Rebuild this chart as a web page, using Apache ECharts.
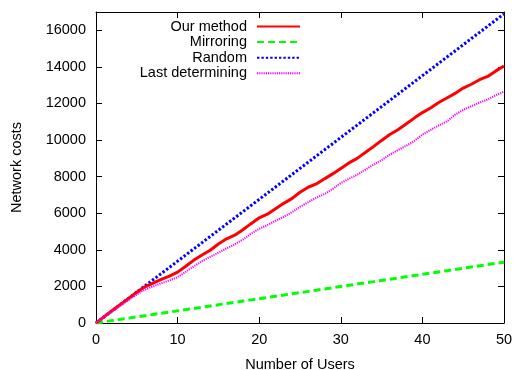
<!DOCTYPE html>
<html>
<head>
<meta charset="utf-8">
<script src="https://cdn.jsdelivr.net/npm/echarts@6/dist/echarts.min.js"></script>
<style>html,body{margin:0;padding:0;background:#fff}#c{width:515px;height:370px}</style>
</head>
<body>
<div id="c"></div>
<script>
const users = [0,1,2,3,4,5,6,7,8,9,10,11,12,13,14,15,16,17,18,19,20,21,22,23,24,25,26,27,28,29,30,31,32,33,34,35,36,37,38,39,40,41,42,43,44,45,46,47,48,49,50];
const ourMethod = [0,340,680,1010,1340,1680,1975,2180,2380,2560,2780,3100,3440,3720,3980,4320,4600,4800,5100,5430,5750,5950,6250,6540,6800,7150,7420,7600,7880,8150,8450,8750,9000,9320,9640,9980,10300,10560,10880,11200,11500,11750,12050,12300,12550,12840,13050,13300,13480,13780,14050];
const mirroring = [0,66,133,200,266,333,400,466,532,600,665,732,798,865,931,998,1064,1130,1197,1264,1330,1396,1463,1530,1596,1663,1729,1795,1862,1929,1995,2061,2128,2195,2261,2328,2394,2460,2527,2594,2660,2726,2793,2860,2926,2993,3059,3125,3192,3259,3325];
const random = [0,338,676,1014,1352,1690,2028,2366,2704,3042,3380,3718,4056,4394,4732,5070,5408,5746,6084,6422,6760,7098,7436,7774,8112,8450,8788,9126,9464,9802,10140,10478,10816,11154,11492,11830,12168,12506,12844,13182,13520,13858,14196,14534,14872,15210,15548,15886,16224,16562,16900];
const lastDetermining = [0,320,640,950,1260,1560,1830,2000,2170,2330,2500,2800,3100,3380,3620,3850,4080,4300,4560,4880,5150,5350,5580,5800,6050,6350,6600,6850,7050,7320,7650,7880,8100,8380,8650,8900,9200,9450,9680,9950,10300,10550,10800,11020,11380,11650,11850,12050,12220,12450,12650];
const seriesNames = ['Our method','Mirroring','Random','Last determining'];
const xTitle = 'Number of Users';
const yTitle = 'Network costs';

const FONT = 'Liberation Sans, Arial, sans-serif';
const FS = 14.5;
const pairs = vals => users.map((u,i)=>[u, vals[i]]);
const frameLine = {show:true, onZero:false, lineStyle:{color:'#000', width:1}};
const tick = {show:true, inside:true, length:6, lineStyle:{color:'#000', width:1}};
const plain = v => String(v);

const chart = echarts.init(document.getElementById('c'), null, {renderer:'canvas'});
chart.setOption({
  animation:false,
  backgroundColor:'#fff',
  textStyle:{fontFamily:FONT},
  grid:{left:96, right:11, top:12, bottom:47, containLabel:false, outerBoundsMode:'none'},
  legend:{
    orient:'vertical', align:'right', right:209, top:14,
    itemWidth:43, itemHeight:14, itemGap:0.6,
    itemStyle:{opacity:0},
    textStyle:{fontFamily:FONT, fontSize:FS, color:'#000', lineHeight:14, padding:[0,5,0,0]},
    data:seriesNames
  },
  xAxis:[
    {type:'value', min:0, max:50, interval:10, position:'bottom',
     name:xTitle, nameLocation:'middle', nameGap:34,
     nameTextStyle:{fontFamily:FONT, fontSize:FS, color:'#000'},
     axisLine:frameLine, axisTick:tick, splitLine:{show:false},
     axisLabel:{fontFamily:FONT, fontSize:FS, color:'#000', margin:9, formatter:plain}},
    {type:'value', min:0, max:50, interval:10, position:'top',
     axisLine:frameLine, axisTick:tick, splitLine:{show:false}, axisLabel:{show:false}}
  ],
  yAxis:[
    {type:'value', min:0, max:17000, interval:2000, position:'left',
     name:yTitle, nameLocation:'middle', nameGap:72,
     nameTextStyle:{fontFamily:FONT, fontSize:FS, color:'#000'},
     axisLine:frameLine, axisTick:tick, splitLine:{show:false},
     axisLabel:{fontFamily:FONT, fontSize:FS, color:'#000', margin:10, showMaxLabel:false, formatter:plain}},
    {type:'value', min:0, max:17000, interval:2000, position:'right',
     axisLine:frameLine, axisTick:tick, splitLine:{show:false}, axisLabel:{show:false}}
  ],
  series:[
    {name:seriesNames[0], type:'line', data:pairs(ourMethod), showSymbol:false, symbol:'none',
     lineStyle:{color:'#ff0000', width:3, type:'solid'}, itemStyle:{color:'#ff0000'}, z:4},
    {name:seriesNames[1], type:'line', data:pairs(mirroring), showSymbol:false, symbol:'none',
     lineStyle:{color:'#00ff00', width:3, type:[7,4]}, itemStyle:{color:'#00ff00'}, z:3},
    {name:seriesNames[2], type:'line', data:pairs(random), showSymbol:false, symbol:'none',
     lineStyle:{color:'#0000ff', width:3, type:[2.4,2]}, itemStyle:{color:'#0000ff'}, z:2},
    {name:seriesNames[3], type:'line', data:pairs(lastDetermining), showSymbol:false, symbol:'none',
     lineStyle:{color:'#ff00ff', width:2, type:[1.2,1]}, itemStyle:{color:'#ff00ff'}, z:5}
  ]
});
</script>
</body>
</html>
